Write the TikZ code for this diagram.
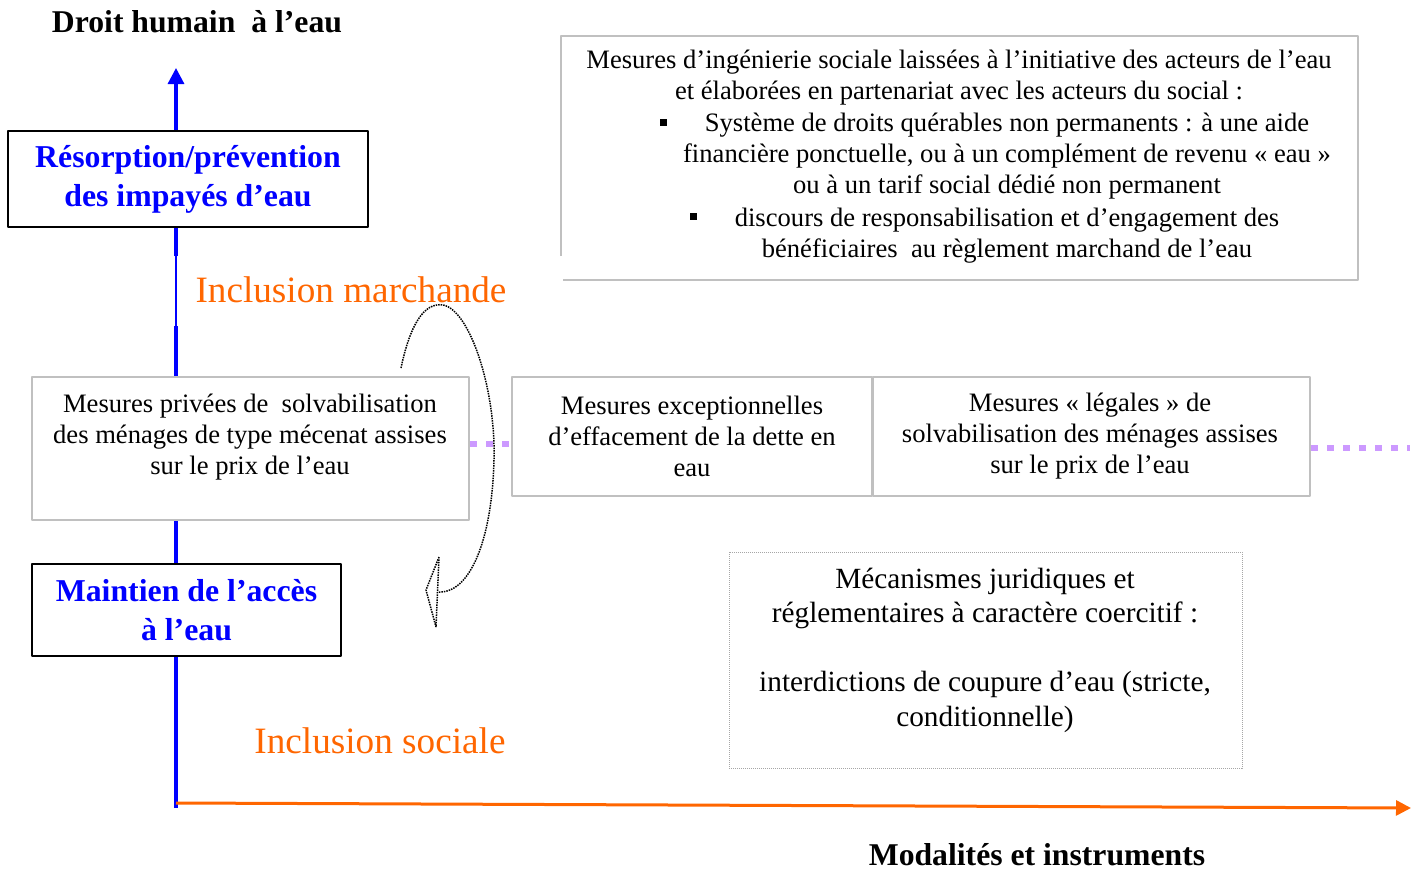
\documentclass[tikz,border=0pt]{standalone}
\usepackage{fontspec}
\setmainfont{Liberation Serif}
\usetikzlibrary{arrows.meta}
\definecolor{bleuaxe}{HTML}{0000FF}
\definecolor{orangeaxe}{HTML}{FF6600}
\definecolor{mauve}{HTML}{CC99FF}
\definecolor{grisbord}{HTML}{C0C0C0}
\begin{document}
\begin{tikzpicture}[x=1pt,y=-1pt,line join=bevel,
  corps/.style={inner sep=0pt,align=center,font=\fontsize{26.6}{31}\selectfont},
  titre/.style={inner sep=0pt,align=center,font=\fontsize{31.7}{38}\selectfont\bfseries},
  bleubox/.style={draw=black,line width=2pt,fill=white,inner sep=0pt,align=center,
    text=bleuaxe,font=\fontsize{31.8}{39}\selectfont\bfseries},
  grisbox/.style={draw=grisbord,line width=2pt,fill=white,inner sep=0pt},
  inclusion/.style={inner sep=0pt,text=orangeaxe,font=\fontsize{37.2}{44}\selectfont},
  puce/.style={fill=black,inner sep=0pt,minimum size=7pt},
  pointille/.style={mauve,line width=6pt,dash pattern=on 7pt off 9pt},
]
\useasboundingbox (0,0) rectangle (1417,870);
%%
\coordinate (basey) at (176,808);
\coordinate (coupe_bas) at (176,326);
\coordinate (coupe_haut) at (176,256);
\coordinate (sommet) at (176,68);
\coordinate (origine) at (176,803);
\coordinate (finx) at (1411,808);
\draw [bleuaxe,line width=3.2pt] (basey) -- (coupe_bas);
\draw [bleuaxe,line width=1.6pt] (coupe_bas) -- (coupe_haut);
\draw [bleuaxe,line width=3.2pt,-{Triangle[length=16pt,width=16pt]}] (coupe_haut) -- (sommet);
\draw [orangeaxe,line width=3pt,-{Triangle[length=15pt,width=15pt]}] (origine) -- (finx);
%
\node (droit) at (197,22) [titre] {Droit humain\ \ à l’eau};
\node (modalites) at (1037,855) [titre] {Modalités et instruments};
\node (resorption) at (188,179) [bleubox,minimum width=360pt,minimum height=96pt] {Résorption/prévention\\des impayés d’eau};
\node (maintien) at (186.5,610) [bleubox,minimum width=309pt,minimum height=92pt] {Maintien de l’accès\\à l’eau};
\node (marchande) at (351,290) [inclusion] {Inclusion marchande};
\node (sociale) at (380,741) [inclusion] {Inclusion sociale};
%
\node (ingenierie) at (959.5,158) [minimum width=797pt,minimum height=244pt,inner sep=0pt] {};
\draw [grisbord,line width=2pt] ([yshift=24pt]ingenierie.south west) -- (ingenierie.north west)
  -- (ingenierie.north east) -- (ingenierie.south east) -- ([xshift=2pt]ingenierie.south west);
\node (ingtitre) at (959,78) [corps] {Mesures d’ingénierie sociale laissées à l’initiative des acteurs de l’eau\\et élaborées en partenariat avec les acteurs du social :};
\node (item_droits) at (1007,156) [corps] {Système de droits quérables non permanents : à une aide\\financière ponctuelle, ou à un complément de revenu « eau »\\ou à un tarif social dédié non permanent};
\node (item_discours) at (1007,236) [corps] {discours de responsabilisation et d’engagement des\\bénéficiaires\ \ au règlement marchand de l’eau};
\node (puce_droits) at (663,122) [puce] {};
\node (puce_discours) at (693,216) [puce] {};
%
\node (privees) at (250.5,448.5) [grisbox,minimum width=437pt,minimum height=143pt] {};
\node (privtxt) at (250,437) [corps] {Mesures privées de\ \ solvabilisation\\des ménages de type mécenat assises\\sur le prix de l’eau};
\node (effacement) at (692,436.5) [grisbox,minimum width=360pt,minimum height=119pt] {};
\node (efftxt) at (692,436) [corps] {Mesures exceptionnelles\\d’effacement de la dette en\\eau};
\node (legales) at (1091.5,436.5) [grisbox,minimum width=437pt,minimum height=119pt] {};
\node (legtxt) at (1090,436) [corps] {Mesures « légales » de\\solvabilisation des ménages assises\\sur le prix de l’eau};
\coordinate (niveau_g) at (0,444);
\coordinate (niveau_d) at (0,448);
\coordinate (bord_d) at (1410,448);
\draw [pointille] (privees.east |- niveau_g) -- (effacement.west |- niveau_g);
\draw [pointille] (legales.east |- niveau_d) -- (bord_d);
%
\node (coercitif) at (985.5,660) [draw=gray!70,densely dotted,line width=1pt,minimum width=513pt,minimum height=216pt] {};
\node (coertxt) at (985,650) [inner sep=0pt,align=center,font=\fontsize{29.3}{34.5}\selectfont] {Mécanismes juridiques et\\réglementaires à caractère coercitif :\\[34.5pt]interdictions de coupure d’eau (stricte,\\conditionnelle)};
%
\coordinate (boucle_debut) at (401,368);
\coordinate (boucle_fin) at (438,592);
\draw [black,densely dotted,line width=1.5pt] (boucle_debut) .. controls (410,325) and (424,302) .. (443,305)
  .. controls (470,310) and (496,390) .. (494,460) .. controls (492,540) and (470,594) .. (boucle_fin);
\draw [black,densely dotted,line width=1.5pt] (439,557) -- (426,590) -- (436,627) -- cycle;
%
\end{tikzpicture}
\end{document}
